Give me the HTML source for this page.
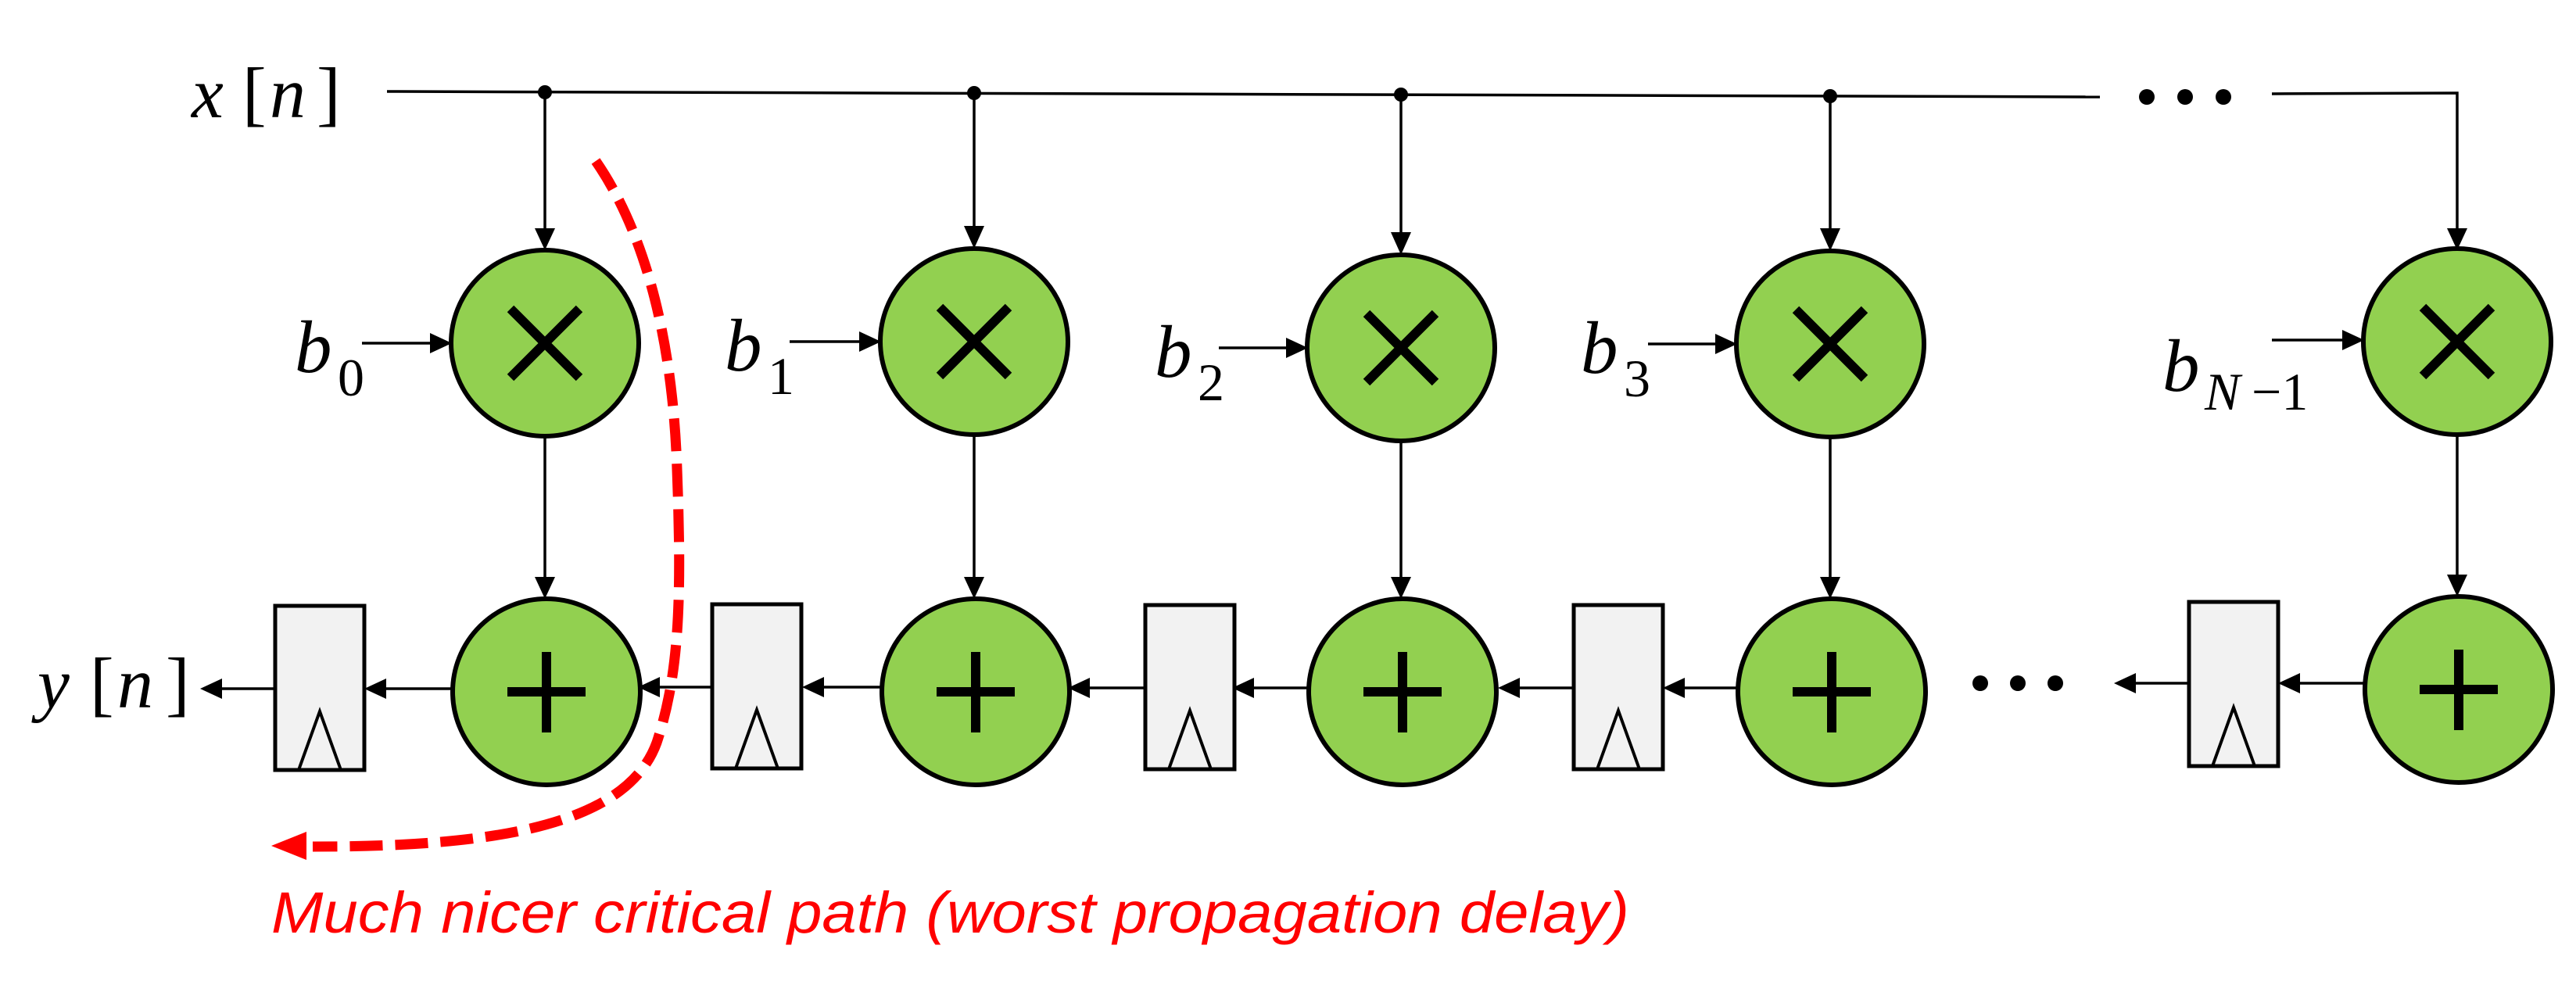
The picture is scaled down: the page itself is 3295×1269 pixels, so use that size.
<!DOCTYPE html>
<html><head><meta charset="utf-8"><style>
html,body{margin:0;padding:0;background:#fff;}
svg{display:block;}
.m{font-family:"Liberation Serif",serif;font-style:italic;}
</style></head><body>
<svg width="3295" height="1269" viewBox="0 0 3295 1269" xmlns="http://www.w3.org/2000/svg">
<defs>
<marker id="ah" markerWidth="10" markerHeight="10" refX="9" refY="5" orient="auto" markerUnits="userSpaceOnUse" viewBox="0 0 10 10">
</marker>
</defs>
<g stroke="#000" stroke-width="3.5" fill="none">
<!-- top line -->
<line x1="495" y1="117" x2="2686" y2="124"/>
<polyline points="2906,120 3143,119 3143,300"/>
</g>
<g fill="#000">
<circle cx="697" cy="118" r="9"/>
<circle cx="1246" cy="119" r="9"/>
<circle cx="1792" cy="121" r="9"/>
<circle cx="2341" cy="123" r="9"/>
<circle cx="2746" cy="124" r="10"/><circle cx="2795" cy="124" r="10"/><circle cx="2844" cy="124" r="10"/>
<circle cx="2533" cy="874" r="10"/><circle cx="2581" cy="874" r="10"/><circle cx="2629" cy="874" r="10"/>
</g>

<!-- columns -->
<g id="cols">
</g>
<g stroke="#000" stroke-width="3.5">
<line x1="697" y1="118" x2="697" y2="295"/>
<line x1="1246" y1="119" x2="1246" y2="292"/>
<line x1="1792" y1="121" x2="1792" y2="300"/>
<line x1="2341" y1="123" x2="2341" y2="295"/>
<line x1="697" y1="558" x2="697" y2="740"/>
<line x1="1246" y1="556" x2="1246" y2="740"/>
<line x1="1792" y1="564" x2="1792" y2="740"/>
<line x1="2341" y1="559" x2="2341" y2="740"/>
<line x1="3143" y1="556" x2="3143" y2="737"/>
<!-- b arrows -->
<line x1="463" y1="439" x2="555" y2="439"/>
<line x1="1010" y1="437" x2="1104" y2="437"/>
<line x1="1559" y1="445" x2="1650" y2="445"/>
<line x1="2108" y1="440" x2="2199" y2="440"/>
<line x1="2906" y1="435" x2="3001" y2="435"/>
<!-- bottom arrows -->
<line x1="352" y1="881" x2="280" y2="881"/>
<line x1="578" y1="881" x2="490" y2="881"/>
<line x1="911" y1="879" x2="840" y2="879"/>
<line x1="1127" y1="879" x2="1050" y2="879"/>
<line x1="1465" y1="880" x2="1390" y2="880"/>
<line x1="1673" y1="880" x2="1600" y2="880"/>
<line x1="2013" y1="880" x2="1940" y2="880"/>
<line x1="2222" y1="880" x2="2151" y2="880"/>
<line x1="2800" y1="874" x2="2728" y2="874"/>
<line x1="3024" y1="874" x2="2938" y2="874"/>
</g>
<g fill="#000">
<!-- down arrowheads -->
<polygon points="684,292 710,292 697,320"/>
<polygon points="1233,289 1259,289 1246,318"/>
<polygon points="1779,297 1805,297 1792,326"/>
<polygon points="2328,292 2354,292 2341,321"/>
<polygon points="3130,292 3156,292 3143,320"/>
<polygon points="684,738 710,738 697,766"/>
<polygon points="1233,738 1259,738 1246,766"/>
<polygon points="1779,738 1805,738 1792,766"/>
<polygon points="2328,738 2354,738 2341,766"/>
<polygon points="3130,735 3156,735 3143,763"/>
<!-- right arrowheads -->
<polygon points="550,426 550,452 578,439"/>
<polygon points="1099,424 1099,450 1127,437"/>
<polygon points="1645,432 1645,458 1673,445"/>
<polygon points="2194,427 2194,453 2222,440"/>
<polygon points="2996,422 2996,448 3024,435"/>
<!-- left arrowheads -->
<polygon points="284,868 284,894 256,881"/>
<polygon points="494,868 494,894 466,881"/>
<polygon points="844,866 844,892 816,879"/>
<polygon points="1054,866 1054,892 1026,879"/>
<polygon points="1394,867 1394,893 1366,880"/>
<polygon points="1604,867 1604,893 1576,880"/>
<polygon points="1944,867 1944,893 1916,880"/>
<polygon points="2155,867 2155,893 2127,880"/>
<polygon points="2732,861 2732,887 2704,874"/>
<polygon points="2942,861 2942,887 2914,874"/>
</g>

<!-- multipliers -->
<g fill="#92D050" stroke="#000" stroke-width="6">
<ellipse cx="697" cy="439" rx="120" ry="119"/>
<ellipse cx="1246" cy="437" rx="120" ry="119"/>
<ellipse cx="1792" cy="445" rx="120" ry="119"/>
<ellipse cx="2341" cy="440" rx="120" ry="119"/>
<ellipse cx="3143" cy="437" rx="120" ry="119"/>
<ellipse cx="699" cy="885" rx="120" ry="119"/>
<ellipse cx="1248" cy="885" rx="120" ry="119"/>
<ellipse cx="1794" cy="885" rx="120" ry="119"/>
<ellipse cx="2343" cy="885" rx="120" ry="119"/>
<ellipse cx="3145" cy="882" rx="120" ry="119"/>
</g>
<g stroke="#000" stroke-width="12" fill="none">
<path d="M653,395 L741,483 M741,395 L653,483"/>
<path d="M1202,393 L1290,481 M1290,393 L1202,481"/>
<path d="M1748,401 L1836,489 M1836,401 L1748,489"/>
<path d="M2297,396 L2385,484 M2385,396 L2297,484"/>
<path d="M3099,393 L3187,481 M3187,393 L3099,481"/>
<path d="M649,885 L749,885 M699,834 L699,937"/>
<path d="M1198,885 L1298,885 M1248,834 L1248,937"/>
<path d="M1744,885 L1844,885 M1794,834 L1794,937"/>
<path d="M2293,885 L2393,885 M2343,834 L2343,937"/>
<path d="M3095,882 L3195,882 M3145,831 L3145,934"/>
</g>

<!-- registers -->
<g fill="#F2F2F2" stroke="#000" stroke-width="5">
<rect x="352" y="775" width="114" height="210"/>
<rect x="911" y="773" width="114" height="210"/>
<rect x="1465" y="774" width="114" height="210"/>
<rect x="2013" y="774" width="114" height="210"/>
<rect x="2800" y="770" width="114" height="210"/>
</g>
<g fill="none" stroke="#000" stroke-width="4">
<polyline points="382,985 409,910 436,985"/>
<polyline points="941,983 968,908 995,983"/>
<polyline points="1495,984 1522,909 1549,984"/>
<polyline points="2043,984 2070,909 2097,984"/>
<polyline points="2830,980 2857,905 2884,980"/>
</g>

<!-- labels -->
<g class="m" fill="#000">
<text x="245" y="150" font-size="92">x</text>
<text x="310" y="150" font-size="92" font-style="normal">[</text>
<text x="345" y="150" font-size="92">n</text>
<text x="405" y="150" font-size="92" font-style="normal">]</text>
<text x="48" y="905" font-size="92">y</text>
<text x="115" y="905" font-size="92" font-style="normal">[</text>
<text x="150" y="905" font-size="92">n</text>
<text x="212" y="905" font-size="92" font-style="normal">]</text>
<text x="377" y="476" font-size="95">b</text><text x="432" y="506" font-size="68" font-style="normal">0</text>
<text x="927" y="474" font-size="95">b</text><text x="982" y="504" font-size="68" font-style="normal">1</text>
<text x="1477" y="482" font-size="95">b</text><text x="1532" y="512" font-size="68" font-style="normal">2</text>
<text x="2022" y="477" font-size="95">b</text><text x="2077" y="507" font-size="68" font-style="normal">3</text>
<text x="2766" y="500" font-size="95">b</text><text x="2820" y="524" font-size="68">N</text><text x="2880" y="524" font-size="68" font-style="normal">−1</text>
</g>

<!-- red critical path -->
<path d="M762,206 C820,290 860,420 866,600 C872,760 870,860 840,950 C800,1060 620,1083 400,1083" fill="none" stroke="#FF0000" stroke-width="13" stroke-dasharray="42,16"/>
<polygon points="347,1082 392,1064 392,1100" fill="#FF0000"/>
<text x="347" y="1193" font-family="Liberation Sans, sans-serif" font-style="italic" font-size="74" fill="#FF0000" textLength="1737" lengthAdjust="spacingAndGlyphs">Much nicer critical path (worst propagation delay)</text>
</svg>
</body></html>
